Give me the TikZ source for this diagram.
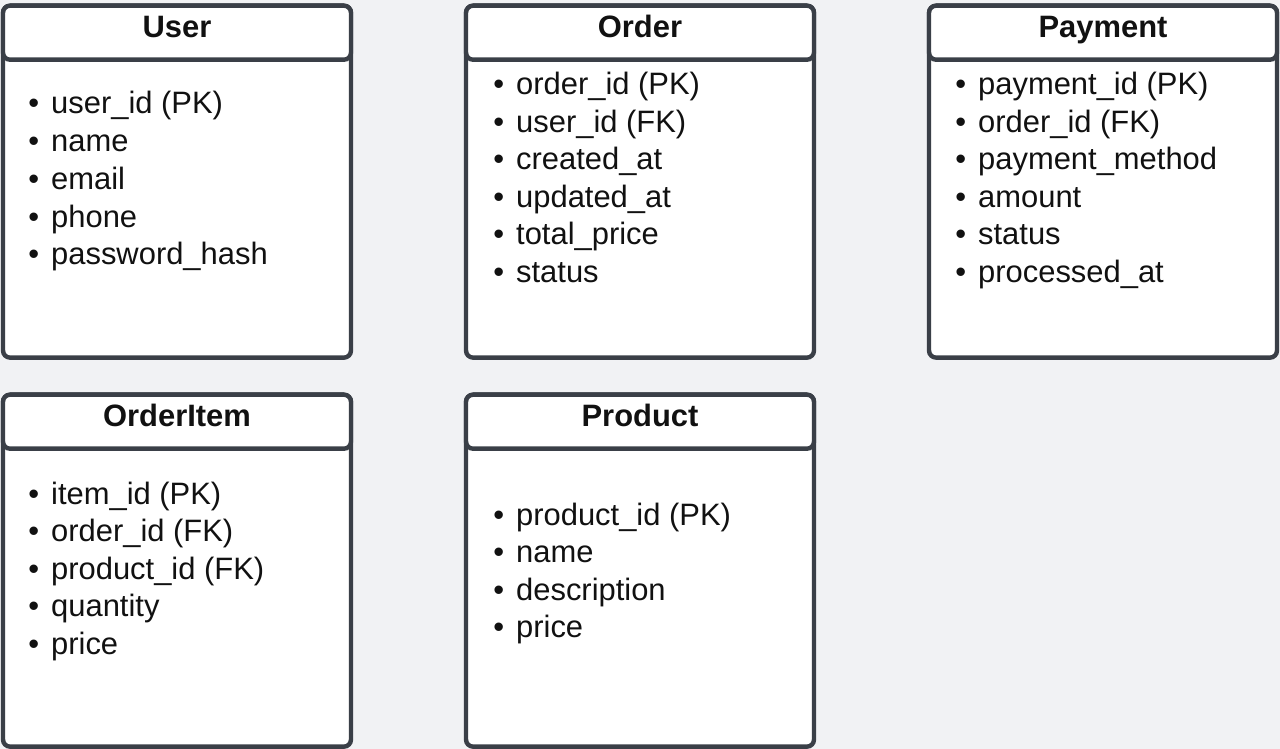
\documentclass[tikz,border=0pt]{standalone}
\usepackage{fontspec}
\setmainfont{Liberation Sans}
\usepackage{tikz}
\usetikzlibrary{positioning}
\definecolor{canvasgray}{RGB}{241,242,244}
\definecolor{edgegray}{RGB}{58,63,71}
\definecolor{inkblack}{RGB}{17,17,17}
\tikzset{
  entitybody/.style={draw=edgegray, line width=2.5pt, fill=white,
                     rounded corners=4pt, minimum width=6.96cm,
                     minimum height=7.04cm, inner sep=0pt},
  entityhead/.style={draw=edgegray, line width=2.5pt, fill=white,
                     rounded corners=4pt, minimum width=6.96cm,
                     minimum height=1.08cm, inner sep=0pt,
                     text height=0.44cm, text depth=0.24cm,
                     font=\fontsize{17.6pt}{21pt}\selectfont\bfseries,
                     text=inkblack},
  field/.style={anchor=base west, inner sep=0pt, text=inkblack,
                font=\fontsize{17.6pt}{21pt}\selectfont},
}
\newcommand{\fieldrow}[1]{\textbullet\hspace{0.24cm}#1}

\begin{document}
\begin{tikzpicture}[x=0.02cm,y=-0.02cm]
  \path[use as bounding box, fill=canvasgray] (0,0) rectangle (1280,749);

  % top row
  \node[entitybody, anchor=north] (userbox) at (177,3.5) {};
  \node[entityhead, anchor=north] (userhead) at (177,3.5) {User};
  \foreach \fld [count=\i from 0] in
      {user\_id (PK), name, email, phone, password\_hash}
    \node[field] (user-\i) at (28,114+37.7*\i) {\fieldrow{\fld}};

  \node[entitybody, anchor=north] (orderbox) at (640,3.5) {};
  \node[entityhead, anchor=north] (orderhead) at (640,3.5) {Order};
  \foreach \fld [count=\i from 0] in
      {order\_id (PK), user\_id (FK), created\_at, updated\_at, total\_price, status}
    \node[field] (order-\i) at (493,95+37.5*\i) {\fieldrow{\fld}};

  \node[entitybody, anchor=north] (paybox) at (1103,3.5) {};
  \node[entityhead, anchor=north] (payhead) at (1103,3.5) {Payment};
  \foreach \fld [count=\i from 0] in
      {payment\_id (PK), order\_id (FK), payment\_method, amount, status, processed\_at}
    \node[field] (pay-\i) at (955,95+37.5*\i) {\fieldrow{\fld}};

  % bottom row
  \node[entitybody, anchor=north] (itembox) at (177,392.5) {};
  \node[entityhead, anchor=north] (itemhead) at (177,392.5) {OrderItem};
  \foreach \fld [count=\i from 0] in
      {item\_id (PK), order\_id (FK), product\_id (FK), quantity, price}
    \node[field] (item-\i) at (28,504+37.5*\i) {\fieldrow{\fld}};

  \node[entitybody, anchor=north] (prodbox) at (640,392.5) {};
  \node[entityhead, anchor=north] (prodhead) at (640,392.5) {Product};
  \foreach \fld [count=\i from 0] in
      {product\_id (PK), name, description, price}
    \node[field] (prod-\i) at (493,525+37.5*\i) {\fieldrow{\fld}};
\end{tikzpicture}
\end{document}
